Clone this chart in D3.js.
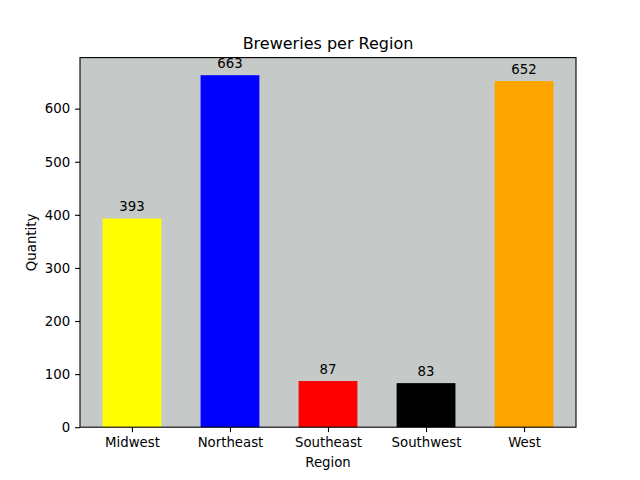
<!DOCTYPE html>
<html><head><meta charset="utf-8">
<script src="https://cdn.jsdelivr.net/npm/d3@7/dist/d3.min.js"></script>
<style>body{margin:0;background:#fff}svg{display:block;font-family:"DejaVu Sans",sans-serif}</style>
</head><body>
<svg id="c" width="640" height="480"></svg>
<script>
const categories = ["Midwest","Northeast","Southeast","Southwest","West"];
const values = [393,663,87,83,652];
const colors = ["yellow","blue","red","black","orange"];
const yTicks = [0,100,200,300,400,500,600];

const svg = d3.select("#c");
const L=80,R=576,T=57.6,B=427.2;
const maxV = d3.max(values);
const x = d3.scaleLinear().domain([-0.53,4.53]).range([L,R]);
const y = d3.scaleLinear().domain([0,maxV*1.05]).range([B,T]);
const bw = 0.6;

svg.append("rect").attr("x",L).attr("y",T).attr("width",R-L).attr("height",B-T).attr("fill","#c5c9c7");

svg.selectAll(".bar").data(values).enter().append("rect")
  .attr("x",(d,i)=>x(i-bw/2)).attr("width",(d,i)=>x(i+bw/2)-x(i-bw/2))
  .attr("y",d=>y(d)).attr("height",d=>B-y(d))
  .attr("fill",(d,i)=>colors[i]);

svg.selectAll(".lbl").data(values).enter().append("text")
  .attr("x",(d,i)=>x(i)).attr("y",d=>y(d)-7.5)
  .attr("text-anchor","middle").attr("font-size",13.3).attr("fill","#000")
  .text(d=>d);

const xa = svg.append("g").attr("transform",`translate(0,${B})`)
  .call(d3.axisBottom(x).tickValues(d3.range(categories.length)).tickFormat(i=>categories[i]).tickSizeOuter(0).tickSize(4.9).tickPadding(5.5));
const ya = svg.append("g").attr("transform",`translate(${L},0)`)
  .call(d3.axisLeft(y).tickValues(yTicks).tickSizeOuter(0).tickSize(4.9).tickPadding(4.9));
[xa,ya].forEach(a=>{a.select(".domain").remove();a.selectAll("text").attr("font-size",13.3).attr("fill","#000").attr("font-family","DejaVu Sans");a.selectAll("line").attr("stroke","#000").attr("stroke-width",1.1);});

svg.append("rect").attr("x",L).attr("y",T).attr("width",R-L).attr("height",B-T).attr("fill","none").attr("stroke","#000").attr("stroke-width",1.1);

svg.append("text").attr("x",(L+R)/2).attr("y",T-8.5).attr("text-anchor","middle").attr("font-size",16).text("Breweries per Region");
svg.append("text").attr("x",(L+R)/2).attr("y",467).attr("text-anchor","middle").attr("font-size",13.3).text("Region");
svg.append("text").attr("transform",`translate(36,${(T+B)/2}) rotate(-90)`).attr("text-anchor","middle").attr("font-size",13.3).text("Quantity");
</script>
</body></html>
